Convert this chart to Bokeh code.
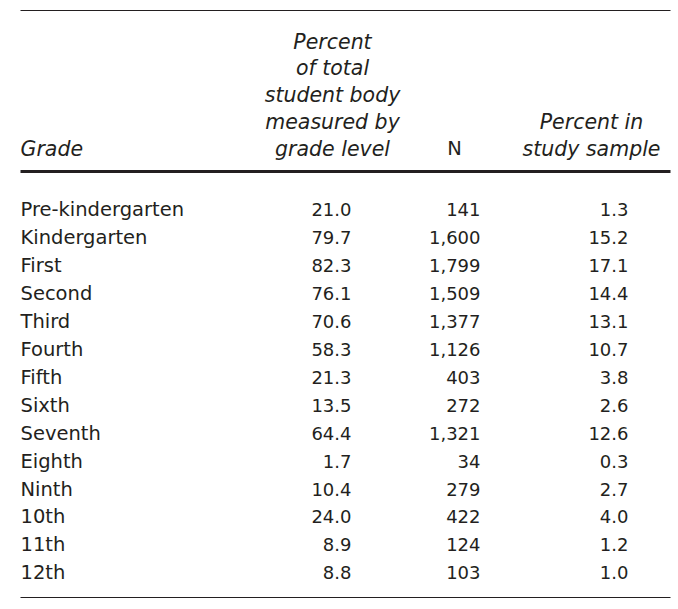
from bokeh.plotting import figure
from bokeh.models import Range1d, ColumnDataSource
from bokeh.core.properties import value
from bokeh.embed import file_html
from bokeh.resources import INLINE

# ---- data ----
grades = ["Pre-kindergarten", "Kindergarten", "First", "Second", "Third", "Fourth",
          "Fifth", "Sixth", "Seventh", "Eighth", "Ninth", "10th", "11th", "12th"]
pct_total = [21.0, 79.7, 82.3, 76.1, 70.6, 58.3, 21.3, 13.5, 64.4, 1.7, 10.4, 24.0, 8.9, 8.8]
n_values = [141, 1600, 1799, 1509, 1377, 1126, 403, 272, 1321, 34, 279, 422, 124, 103]
pct_sample = [1.3, 15.2, 17.1, 14.4, 13.1, 10.7, 3.8, 2.6, 12.6, 0.3, 2.7, 4.0, 1.2, 1.0]

header_grade = ["Grade"]
header_pct_total = ["Percent", "of total", "student body", "measured by", "grade level"]
header_n = ["N"]
header_pct_sample = ["Percent in", "study sample"]

# ---- layout (page pixel coordinates) ----
W, H = 674, 603
FONT = value("DejaVu Sans")
HDR_SIZE = "20.5px"
LBL_SIZE = "19.5px"
NUM_SIZE = "18px"
COLOR = "#231f20"

p = figure(width=W, height=H, output_backend="svg", toolbar_location=None,
           x_range=Range1d(0, W), y_range=Range1d(H, 0),
           min_border=0, outline_line_color=None)
p.axis.visible = False
p.grid.visible = False
p.background_fill_color = "white"
p.border_fill_color = "white"

X_LEFT, X_RIGHT = 20, 670
# rules
p.segment(x0=[X_LEFT], y0=[10], x1=[X_RIGHT], y1=[10], line_color=COLOR, line_width=1.2)
p.segment(x0=[X_LEFT], y0=[171], x1=[X_RIGHT], y1=[171], line_color=COLOR, line_width=3)
p.segment(x0=[X_LEFT], y0=[597], x1=[X_RIGHT], y1=[597], line_color=COLOR, line_width=1.2)

# header
HDR_BOTTOM = 148
HDR_STEP = 26.7

def hdr_y(lines):
    n = len(lines)
    return [HDR_BOTTOM - (n - 1 - i) * HDR_STEP for i in range(n)]

p.text(x=[X_LEFT] * len(header_grade), y=hdr_y(header_grade), text=header_grade,
       text_font=FONT, text_font_style="italic", text_font_size=HDR_SIZE, text_color=COLOR,
       text_align="left", text_baseline="middle")
p.text(x=[332] * len(header_pct_total), y=hdr_y(header_pct_total), text=header_pct_total,
       text_font=FONT, text_font_style="italic", text_font_size=HDR_SIZE, text_color=COLOR,
       text_align="center", text_baseline="middle")
p.text(x=[454] * len(header_n), y=hdr_y(header_n), text=header_n,
       text_font=FONT, text_font_size=LBL_SIZE, text_color=COLOR,
       text_align="center", text_baseline="middle")
p.text(x=[591] * len(header_pct_sample), y=hdr_y(header_pct_sample), text=header_pct_sample,
       text_font=FONT, text_font_style="italic", text_font_size=HDR_SIZE, text_color=COLOR,
       text_align="center", text_baseline="middle")

# body
ROW0, ROW_STEP = 209, 27.95
ys = [ROW0 + i * ROW_STEP for i in range(len(grades))]
src = ColumnDataSource(dict(
    y=ys,
    grade=grades,
    pt=[f"{v:.1f}" for v in pct_total],
    n=[f"{v:,}" for v in n_values],
    ps=[f"{v:.1f}" for v in pct_sample],
))
p.text(x=X_LEFT, y="y", text="grade", source=src, text_font=FONT, text_font_size=LBL_SIZE,
       text_color=COLOR, text_align="left", text_baseline="middle")
p.text(x=351, y="y", text="pt", source=src, text_font=FONT, text_font_size=NUM_SIZE,
       text_color=COLOR, text_align="right", text_baseline="middle")
p.text(x=480, y="y", text="n", source=src, text_font=FONT, text_font_size=NUM_SIZE,
       text_color=COLOR, text_align="right", text_baseline="middle")
p.text(x=628, y="y", text="ps", source=src, text_font=FONT, text_font_size=NUM_SIZE,
       text_color=COLOR, text_align="right", text_baseline="middle")

open("out.html", "w").write(file_html(p, INLINE))
